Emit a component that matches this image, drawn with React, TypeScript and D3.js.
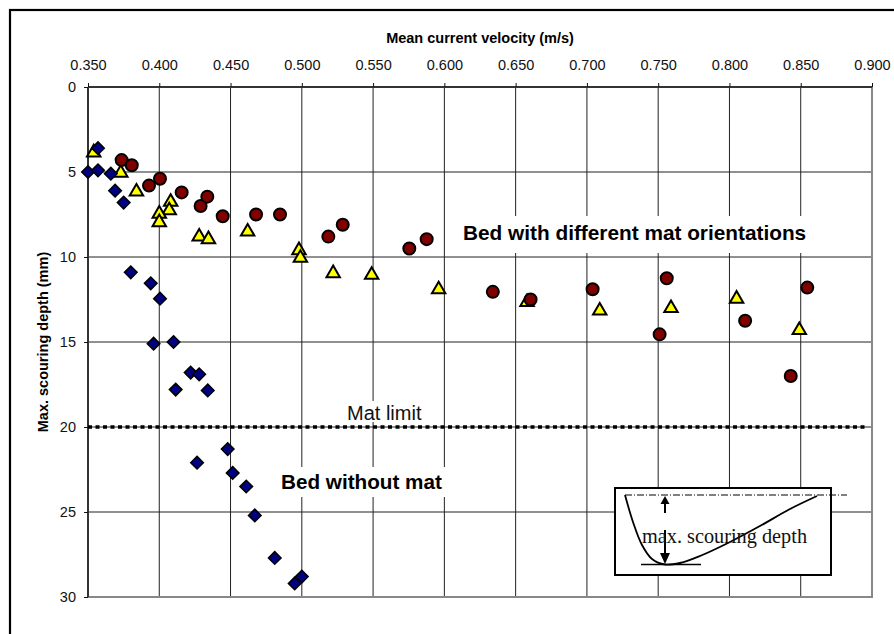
import { useEffect, useRef } from "react";
import * as d3 from "d3";

// x = mean current velocity (m/s), y = max. scouring depth (mm)
const xTicks = [0.35, 0.4, 0.45, 0.5, 0.55, 0.6, 0.65, 0.7, 0.75, 0.8, 0.85, 0.9];
const yTicks = [0, 5, 10, 15, 20, 25, 30];

const bedWithoutMat: [number, number][] = [
  [0.350, 5.0], [0.357, 3.6], [0.357, 4.9], [0.366, 5.1], [0.369, 6.1], [0.375, 6.8],
  [0.380, 10.9], [0.394, 11.55], [0.4005, 12.45], [0.396, 15.1], [0.410, 15.0],
  [0.422, 16.8], [0.428, 16.9], [0.4115, 17.8], [0.434, 17.85], [0.448, 21.3],
  [0.4265, 22.1], [0.4515, 22.7], [0.461, 23.5], [0.467, 25.2], [0.481, 27.7],
  [0.500, 28.8], [0.495, 29.2],
];

const matTriangles: [number, number][] = [
  [0.354, 3.8], [0.373, 5.0], [0.384, 6.1], [0.408, 6.7], [0.407, 7.2], [0.400, 7.4],
  [0.400, 7.9], [0.428, 8.75], [0.4345, 8.9], [0.462, 8.45], [0.498, 9.55], [0.499, 10.0],
  [0.522, 10.9], [0.549, 11.0], [0.596, 11.85], [0.658, 12.6], [0.709, 13.1],
  [0.759, 12.95], [0.805, 12.4], [0.849, 14.25],
];

const matCircles: [number, number][] = [
  [0.3736, 4.3], [0.3807, 4.6], [0.3928, 5.8], [0.4005, 5.4], [0.4157, 6.2], [0.429, 7.0],
  [0.4337, 6.45], [0.4445, 7.6], [0.4679, 7.5], [0.4847, 7.5], [0.5186, 8.8], [0.5287, 8.1],
  [0.5754, 9.5], [0.5876, 8.95], [0.634, 12.05], [0.6605, 12.5], [0.704, 11.9],
  [0.756, 11.25], [0.751, 14.55], [0.811, 13.75], [0.8546, 11.8], [0.843, 17.0],
];

const matLimit = 20;
const matLimitRange = [0.35, 0.895];

const W = 894;
const H = 634;
const m = { l: 88, t: 87, r: 872, b: 597 };
const sans = "'Liberation Sans', Arial, sans-serif";
const serif = "'Liberation Serif', 'Times New Roman', serif";

export default function App() {
  const ref = useRef<SVGSVGElement>(null);

  useEffect(() => {
    if (!ref.current) return;
    const svg = d3.select(ref.current);
    svg.selectAll("*").remove();

    const x = d3.scaleLinear().domain([0.35, 0.9]).range([m.l, m.r]);
    const y = d3.scaleLinear().domain([0, 30]).range([m.t, m.b]);

    // outer frame
    svg.append("rect")
      .attr("x", 10).attr("y", 10).attr("width", 900).attr("height", 700)
      .attr("fill", "white").attr("stroke", "black").attr("stroke-width", 2.2);

    // grid
    const grid = svg.append("g");
    grid.selectAll("line.v").data(xTicks.slice(1, -1)).join("line")
      .attr("x1", (d) => x(d)).attr("x2", (d) => x(d))
      .attr("y1", m.t).attr("y2", m.b)
      .attr("stroke", "#222").attr("stroke-width", 1);
    grid.selectAll("line.h").data(yTicks.slice(1, -1)).join("line")
      .attr("x1", m.l).attr("x2", m.r)
      .attr("y1", (d) => y(d)).attr("y2", (d) => y(d))
      .attr("stroke", "#222").attr("stroke-width", 1);

    // plot border right/bottom
    svg.append("path")
      .attr("d", `M${m.r},${m.t}V${m.b}H${m.l}`)
      .attr("fill", "none").attr("stroke", "#888").attr("stroke-width", 2);

    // axes
    svg.append("g")
      .attr("transform", `translate(0,${m.t})`)
      .call(d3.axisTop(x).tickValues(xTicks).tickFormat(d3.format(".3f")).tickSize(4).tickPadding(13))
      .call((g) => g.select(".domain").attr("stroke", "#333").attr("stroke-width", 2).attr("d", `M${m.l},0H${m.r}`))
      .call((g) => g.selectAll("line").attr("stroke", "#111"))
      .call((g) => g.selectAll("text").attr("font-family", sans).attr("font-size", 14.5).attr("fill", "#111"));

    svg.append("g")
      .attr("transform", `translate(${m.l},0)`)
      .call(d3.axisLeft(y).tickValues(yTicks).tickFormat(d3.format("d")).tickSize(4).tickPadding(8))
      .call((g) => g.select(".domain").attr("stroke", "#333").attr("stroke-width", 2).attr("d", `M0,${m.t}V${m.b}`))
      .call((g) => g.selectAll("line").attr("stroke", "#111"))
      .call((g) => g.selectAll("text").attr("font-family", sans).attr("font-size", 14.5).attr("fill", "#111"));

    // axis titles
    svg.append("text")
      .attr("x", (m.l + m.r) / 2).attr("y", 43)
      .attr("text-anchor", "middle").attr("font-family", sans).attr("font-weight", "bold")
      .attr("font-size", 14.5).text("Mean current velocity (m/s)");
    svg.append("text")
      .attr("transform", `translate(48,${(m.t + m.b) / 2}) rotate(-90)`)
      .attr("text-anchor", "middle").attr("font-family", sans).attr("font-weight", "bold")
      .attr("font-size", 14.5).text("Max. scouring depth (mm)");

    // annotation boxes
    svg.append("rect").attr("x", 455).attr("y", 216).attr("width", 360).attr("height", 37).attr("fill", "white");
    svg.append("text").attr("x", 463).attr("y", 240)
      .attr("font-family", sans).attr("font-weight", "bold").attr("font-size", 20.8)
      .text("Bed with different mat orientations");

    svg.append("rect").attr("x", 275).attr("y", 467).attr("width", 173).attr("height", 30).attr("fill", "white");
    svg.append("text").attr("x", 281).attr("y", 489)
      .attr("font-family", sans).attr("font-weight", "bold").attr("font-size", 20.7)
      .text("Bed without mat");

    svg.append("rect").attr("x", 343).attr("y", 401).attr("width", 82).attr("height", 21).attr("fill", "white");
    svg.append("text").attr("x", 347).attr("y", 420)
      .attr("font-family", sans).attr("font-size", 20).attr("fill", "#111")
      .text("Mat limit");

    // mat limit
    svg.append("line")
      .attr("x1", x(matLimitRange[0])).attr("x2", x(matLimitRange[1]))
      .attr("y1", y(matLimit)).attr("y2", y(matLimit))
      .attr("stroke", "black").attr("stroke-width", 3.5).attr("stroke-dasharray", "4 3.5");

    // markers
    const tri = d3.symbol().type(d3.symbolTriangle).size(78);
    svg.append("g").selectAll("path").data(matTriangles).join("path")
      .attr("d", tri as any)
      .attr("transform", (d) => `translate(${x(d[0])},${y(d[1]) + 1})`)
      .attr("fill", "#ffff00").attr("stroke", "black").attr("stroke-width", 2).attr("stroke-linejoin", "miter");

    svg.append("g").selectAll("path").data(bedWithoutMat).join("path")
      .attr("d", `M0,-6.3L6.3,0L0,6.3L-6.3,0Z`)
      .attr("transform", (d) => `translate(${x(d[0])},${y(d[1])})`)
      .attr("fill", "#000080").attr("stroke", "black").attr("stroke-width", 1.5);

    svg.append("g").selectAll("circle").data(matCircles).join("circle")
      .attr("cx", (d) => x(d[0])).attr("cy", (d) => y(d[1])).attr("r", 6)
      .attr("fill", "#800000").attr("stroke", "black").attr("stroke-width", 2);

    // inset sketch
    const inset = svg.append("g");
    inset.append("rect").attr("x", 615).attr("y", 488).attr("width", 216).attr("height", 87)
      .attr("fill", "white").attr("stroke", "black").attr("stroke-width", 2);
    inset.append("line").attr("x1", 625).attr("x2", 847).attr("y1", 495).attr("y2", 495)
      .attr("stroke", "black").attr("stroke-width", 1).attr("stroke-dasharray", "7 2 1 2");
    const profile: [number, number][] = [
      [625, 495], [633, 522], [642, 545], [652, 559], [665, 564.5], [680, 563],
      [700, 556], [730, 542], [760, 526], [790, 509], [817, 496],
    ];
    inset.append("path")
      .attr("d", d3.line().curve(d3.curveCatmullRom)(profile) as string)
      .attr("fill", "none").attr("stroke", "black").attr("stroke-width", 1.8);
    inset.append("line").attr("x1", 641).attr("x2", 701).attr("y1", 564.5).attr("y2", 564.5)
      .attr("stroke", "black").attr("stroke-width", 1.5);
    inset.append("line").attr("x1", 665).attr("x2", 665).attr("y1", 513).attr("y2", 502)
      .attr("stroke", "black").attr("stroke-width", 2);
    inset.append("path").attr("d", "M665,496L669.5,504L660.5,504Z").attr("fill", "black");
    inset.append("line").attr("x1", 665).attr("x2", 665).attr("y1", 530).attr("y2", 556)
      .attr("stroke", "black").attr("stroke-width", 2);
    inset.append("path").attr("d", "M665,564L670,553L660,553Z").attr("fill", "black");
    inset.append("text").attr("x", 642).attr("y", 543)
      .attr("font-family", serif).attr("font-size", 20.3).attr("fill", "#111")
      .text("max. scouring depth");
  }, []);

  return (
    <svg
      ref={ref}
      width={W}
      height={H}
      style={{ position: "absolute", left: 0, top: 0, background: "white" }}
    />
  );
}
